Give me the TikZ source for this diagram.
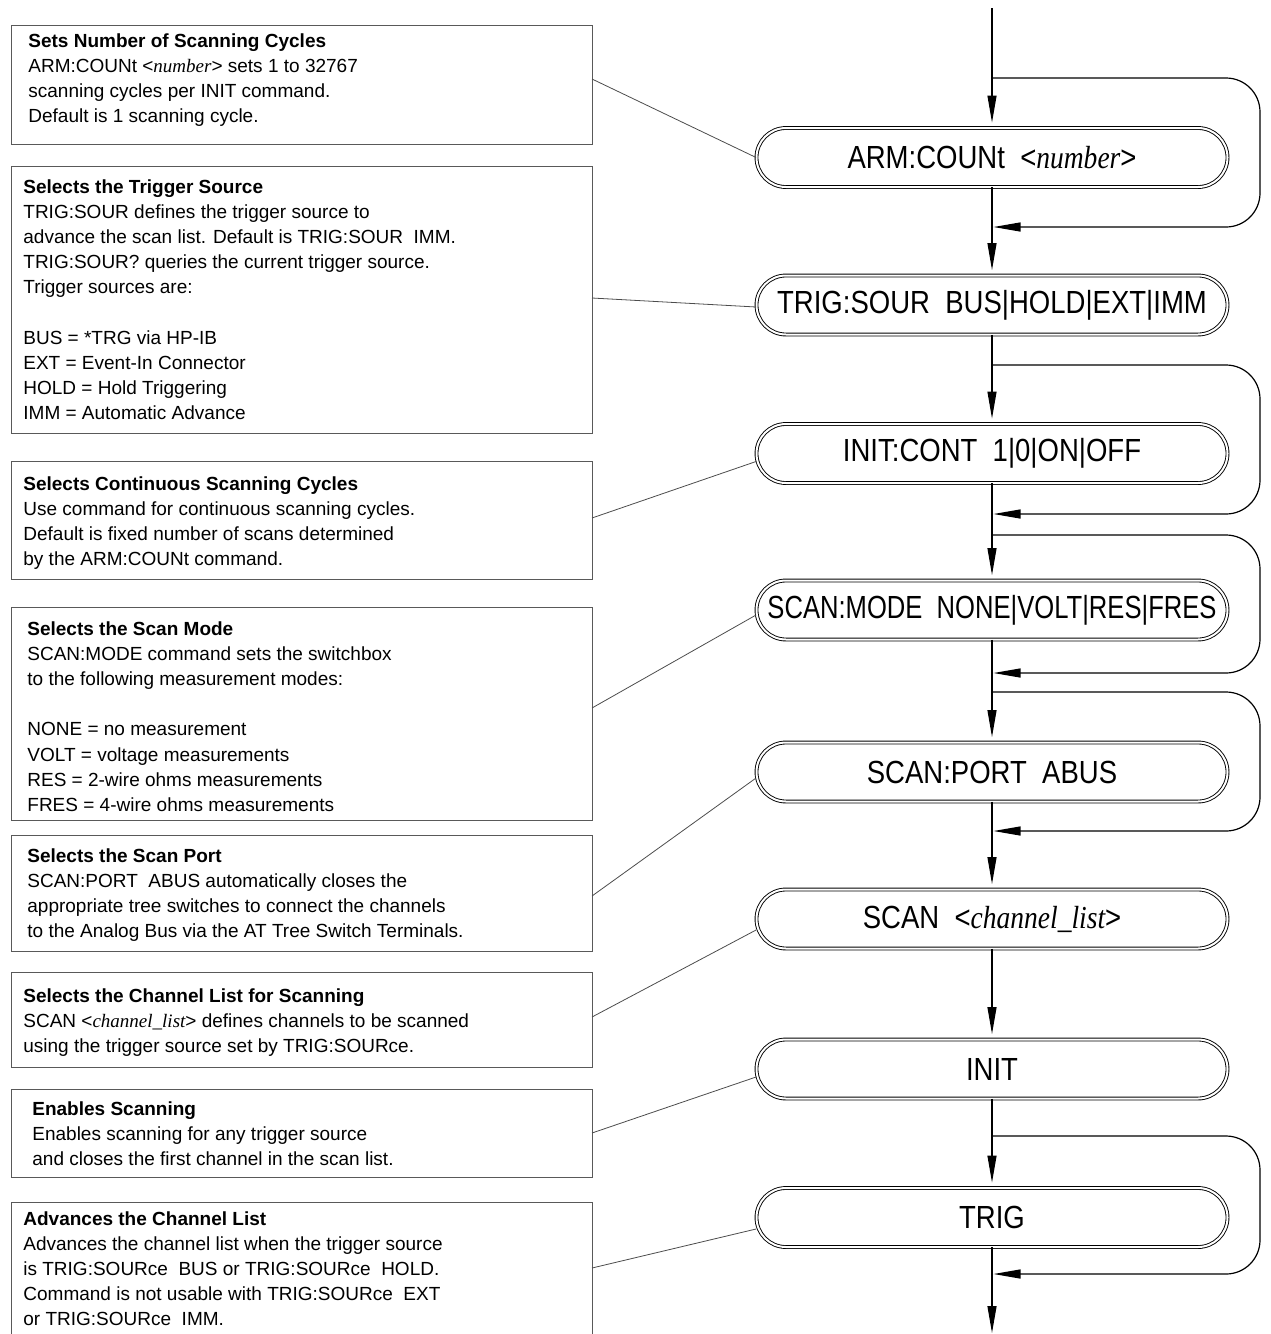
\documentclass[tikz,border=0pt]{standalone}
\usepackage{fontspec}
\setmainfont{Liberation Sans}
\newfontfamily\tms{Liberation Serif}
\newfontfamily\cmdfont[FakeStretch=0.86]{Liberation Sans}
\newfontfamily\cmdnarrow[FakeStretch=0.80]{Liberation Sans}
\newfontfamily\cmdtms[FakeStretch=0.86]{Liberation Serif}
\usetikzlibrary{arrows.meta}
\begin{document}
\begin{tikzpicture}[x=0.5pt,y=-0.5pt,
 cmd/.style={draw=black, line width=0.45pt, double=white, double distance=1pt, rounded corners=14.75pt, minimum width=235.5pt, minimum height=29.5pt, inner sep=0pt, font=\cmdfont\fontsize{16}{19}\selectfont},
 tbox/.style={draw=black!65, line width=0.5pt, anchor=north west, minimum width=290.5pt, inner sep=0pt},
 ttext/.style={anchor=north west, inner sep=0pt, align=left, font=\fontsize{9.5}{12.6}\selectfont},
 tip/.style={-{Triangle[length=13.5pt,width=4.5pt]}},
 flow/.style={line width=0.6pt, tip, shorten >=2.5pt},
 loopl/.style={line width=0.6pt, rounded corners=17pt, tip},
 lead/.style={draw=black!70, line width=0.4pt}
]
\path[use as bounding box] (0,0) rectangle (1270,1334);
\clip (0,0) rectangle (1270,1334);

% command nodes
\node[cmd] (arm)  at (992,157.5) {ARM:COUNt\ \ <{\cmdtms\itshape number}>};
\node[cmd] (tsrc) at (992,305)   {TRIG:SOUR\ \ BUS|HOLD|EXT|IMM};
\node[cmd] (icont) at (992,453.5) {INIT:CONT\ \ 1|0|ON|OFF};
\node[cmd, font=\cmdnarrow\fontsize{16}{19}\selectfont] (smode) at (992,610) {SCAN:MODE\ \ NONE|VOLT|RES|FRES};
\node[cmd] (sport) at (992,772)   {SCAN:PORT\ \ ABUS};
\node[cmd] (scan)  at (992,919)   {SCAN\ \ <{\cmdtms\itshape channel\_list}>};
\node[cmd] (init)  at (992,1069)  {INIT};
\node[cmd] (trig)  at (992,1217.5){TRIG};

% flow
\coordinate (top) at (992,8);
\coordinate (bot) at (992,1333);
\draw[flow] (top) -- (arm.north);
\draw[flow] (arm.south) -- (tsrc.north);
\draw[flow] (tsrc.south) -- (icont.north);
\draw[flow] (icont.south) -- (smode.north);
\draw[flow] (smode.south) -- (sport.north);
\draw[flow] (sport.south) -- (scan.north);
\draw[flow] (scan.south) -- (init.north);
\draw[flow] (init.south) -- (trig.north);
\draw[line width=0.6pt, tip] (trig.south) -- (bot);

% loops
\coordinate (l1a) at (992,78);   \coordinate (l1b) at (993.5,227);
\coordinate (l2a) at (992,365);  \coordinate (l2b) at (993.5,514);
\coordinate (l3a) at (992,535);  \coordinate (l3b) at (993.5,673);
\coordinate (l4a) at (992,692);  \coordinate (l4b) at (993.5,831);
\coordinate (l5a) at (992,1136); \coordinate (l5b) at (993.5,1274);
\draw[loopl] (l1a) -- (1260,78)   -- (1260,227)  -- (l1b);
\draw[loopl] (l2a) -- (1260,365)  -- (1260,514)  -- (l2b);
\draw[loopl] (l3a) -- (1260,535)  -- (1260,673)  -- (l3b);
\draw[loopl] (l4a) -- (1260,692)  -- (1260,831)  -- (l4b);
\draw[loopl] (l5a) -- (1260,1136) -- (1260,1274) -- (l5b);

% description boxes
\node[tbox, minimum height=59.5pt]  (b1) at (11,25)   {};
\node[tbox, minimum height=133.5pt] (b2) at (11,166)  {};
\node[tbox, minimum height=59pt]    (b3) at (11,461)  {};
\node[tbox, minimum height=106.5pt] (b4) at (11,607)  {};
\node[tbox, minimum height=58pt]    (b5) at (11,835)  {};
\node[tbox, minimum height=47.5pt]  (b6) at (11,972)  {};
\node[tbox, minimum height=44pt]    (b7) at (11,1089) {};
\node[tbox, minimum height=75pt]    (b8) at (11,1202) {};

\node[ttext] (t1) at (28,33) {\textbf{Sets Number of Scanning Cycles}\\
ARM:COUNt <{\tms\itshape number}> sets 1 to 32767\\
scanning cycles per INIT command.\\
Default is 1 scanning cycle.};
\node[ttext] (t2) at (23,179) {\textbf{Selects the Trigger Source}\\
TRIG:SOUR defines the trigger source to\\
advance the scan list. Default is TRIG:SOUR\ \ IMM.\\
TRIG:SOUR? queries the current trigger source.\\
Trigger sources are:\\
\mbox{}\\
BUS = *TRG via HP-IB\\
EXT = Event-In Connector\\
HOLD = Hold Triggering\\
IMM = Automatic Advance};
\node[ttext] (t3) at (23,476) {\textbf{Selects Continuous Scanning Cycles}\\
Use command for continuous scanning cycles.\\
Default is fixed number of scans determined\\
by the ARM:COUNt command.};
\node[ttext] (t4) at (27,621) {\textbf{Selects the Scan Mode}\\
SCAN:MODE command sets the switchbox\\
to the following measurement modes:\\
\mbox{}\\
NONE = no measurement\\
VOLT = voltage measurements\\
RES = 2-wire ohms measurements\\
FRES = 4-wire ohms measurements};
\node[ttext] (t5) at (27,848) {\textbf{Selects the Scan Port}\\
SCAN:PORT\ \ ABUS automatically closes the\\
appropriate tree switches to connect the channels\\
to the Analog Bus via the AT Tree Switch Terminals.};
\node[ttext] (t6) at (23,988) {\textbf{Selects the Channel List for Scanning}\\
SCAN <{\tms\itshape channel\_list}> defines channels to be scanned\\
using the trigger source set by TRIG:SOURce.};
\node[ttext] (t7) at (32,1101) {\textbf{Enables Scanning}\\
Enables scanning for any trigger source\\
and closes the first channel in the scan list.};
\node[ttext] (t8) at (23,1211) {\textbf{Advances the Channel List}\\
Advances the channel list when the trigger source\\
is TRIG:SOURce\ \ BUS or TRIG:SOURce\ \ HOLD.\\
Command is not usable with TRIG:SOURce\ \ EXT\\
or TRIG:SOURce\ \ IMM.};

% leaders
\coordinate (c1) at (592,79);
\coordinate (c2) at (592,298);
\coordinate (c3) at (592,518);
\coordinate (c4) at (592,708);
\coordinate (c5) at (592,896);
\coordinate (c6) at (592,1017);
\coordinate (c7) at (592,1133);
\coordinate (c8) at (592,1268);
\draw[lead] (c1) -- (arm.west);
\draw[lead] (c2) -- ([yshift=-1pt]tsrc.west);
\draw[lead] (c3) -- ([yshift=-4pt]icont.west);
\draw[lead] (c4) -- ([yshift=-2.5pt]smode.west);
\draw[lead] (c5) -- ([yshift=-3pt]sport.west);
\draw[lead] (c6) -- ([yshift=-5.5pt]scan.west);
\draw[lead] (c7) -- ([yshift=-4pt]init.west);
\draw[lead] (c8) -- ([yshift=-5.75pt]trig.west);
\end{tikzpicture}
\end{document}
